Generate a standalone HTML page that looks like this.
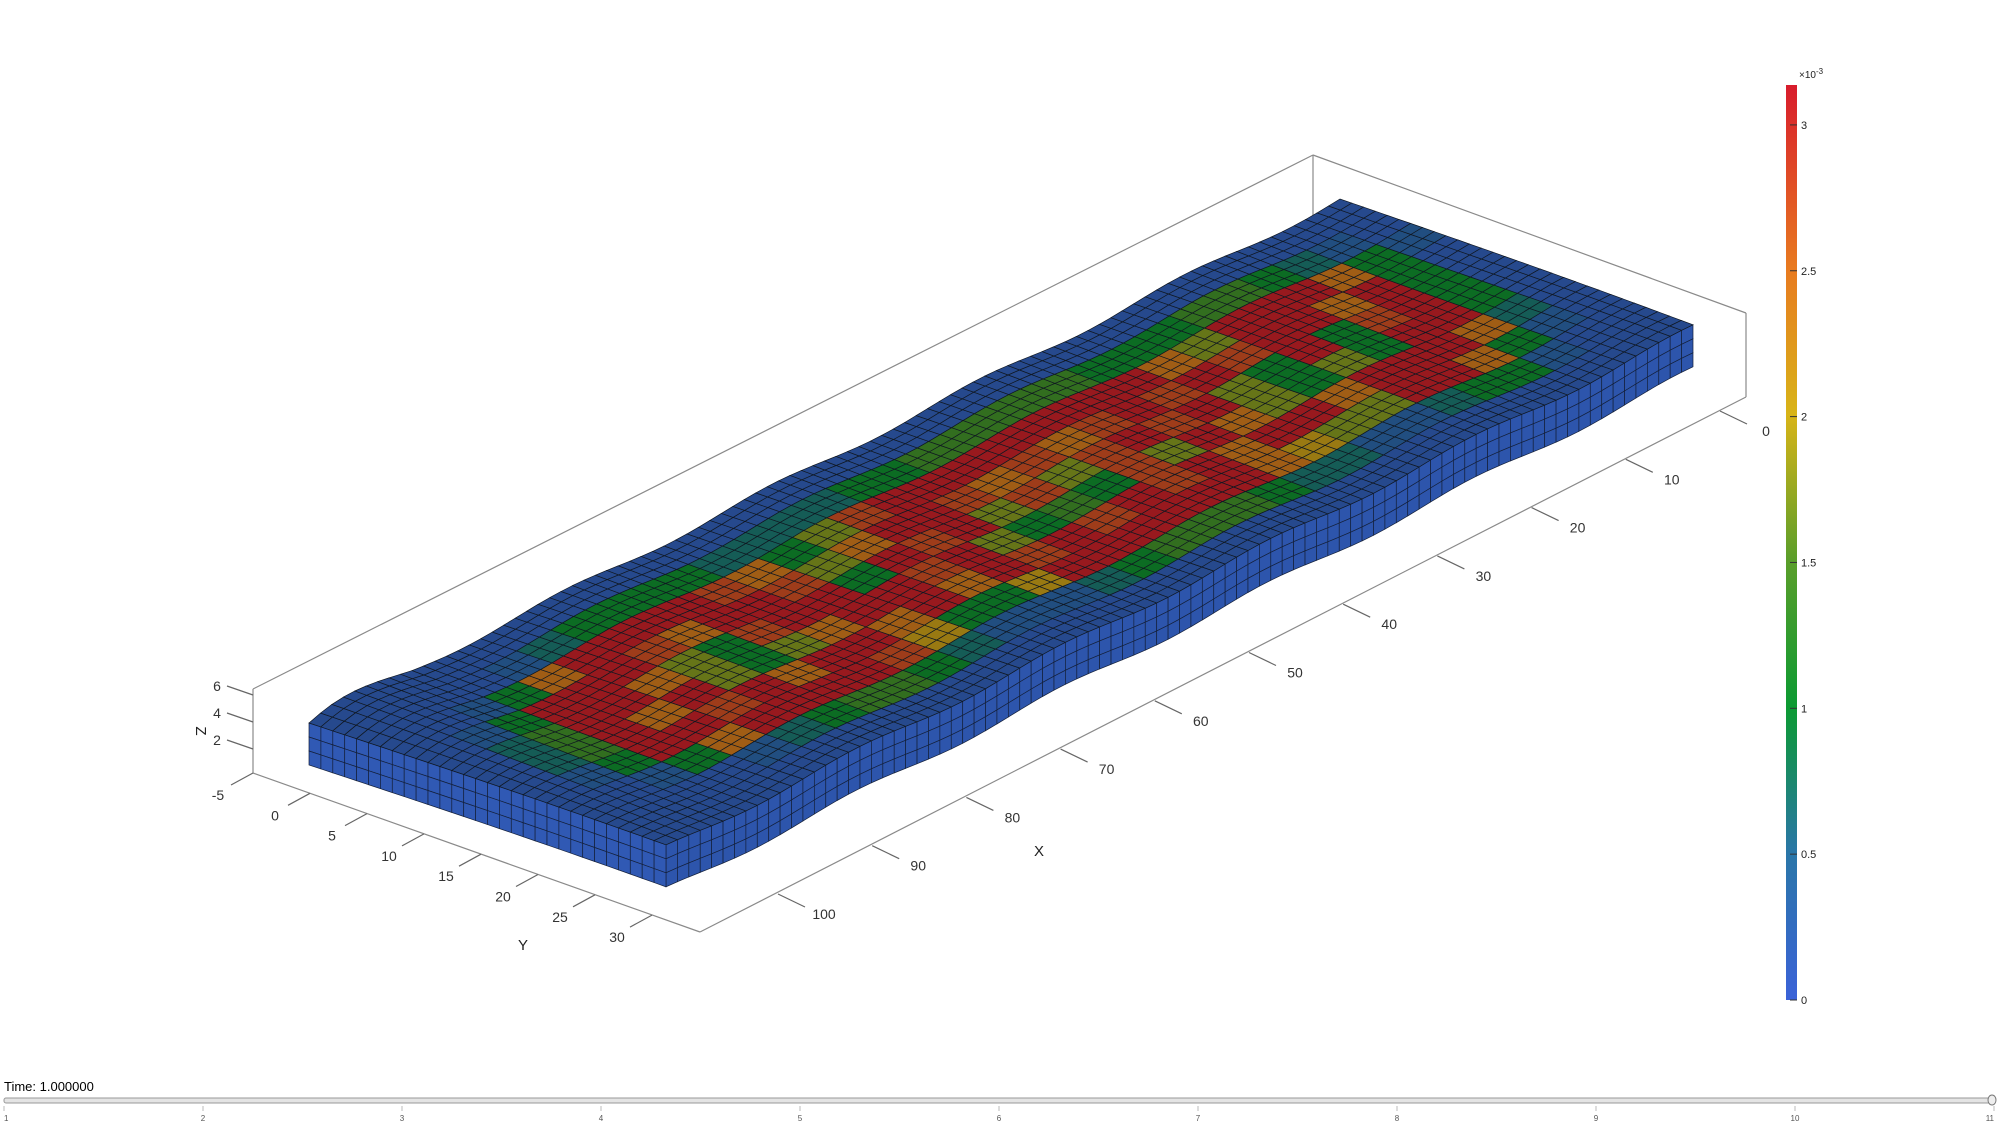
<!DOCTYPE html>
<html><head><meta charset="utf-8">
<style>
html,body{margin:0;padding:0;background:#fff;}
svg{display:block;font-family:"Liberation Sans",sans-serif;}
</style></head>
<body>
<svg id="chart" width="2000" height="1125" viewBox="0 0 2000 1125">
<defs>
<linearGradient id="cbgrad" x1="0" y1="1" x2="0" y2="0">
<stop offset="0" stop-color="#3b62d8"/>
<stop offset="0.16" stop-color="#2a76a8"/>
<stop offset="0.32" stop-color="#0c9a32"/>
<stop offset="0.48" stop-color="#5a9e2a"/>
<stop offset="0.64" stop-color="#d8b418"/>
<stop offset="0.8" stop-color="#e87a20"/>
<stop offset="1" stop-color="#d81c2c"/>
</linearGradient>
</defs>
<g id="box"></g>
<g id="mesh"></g>
<g id="axes"></g>
<g id="cbar"></g>
<g id="slider"></g>
</svg>
<script>
// field values (digit 0..9 => 0..3.1e-3), rows: back side -> front side, cols: front end -> far end
const fieldRows = [
"000000000000000000000000000000",
"000012333322223344444333443210",
"001379999873589999999975999731",
"013999879985799878789898997930",
"024997538993989585898953938930",
"024979535799895343859753539930",
"013998979979798989897997999720",
"001379999863369999997655997310",
"000012344321112344432211233100",
"000000000000000000000000000000"
];
const xTicks = [0,10,20,30,40,50,60,70,80,90,100];
const yTicks = [-5,0,5,10,15,20,25,30];
const zTicks = [2,4,6];
const cbTicks = [0,0.5,1,1.5,2,2.5,3];
const sliderTicks = [1,2,3,4,5,6,7,8,9,10,11];

const NS='http://www.w3.org/2000/svg';
function mk(tag,attrs,parent){const e=document.createElementNS(NS,tag);for(const k in attrs)e.setAttribute(k,attrs[k]);parent.appendChild(e);return e;}

function xAxisPt(X){return [1720+(X)*(-9.42),411+(X)*(4.83)];}
function yAxisPt(Y){return [253+(Y+5)*11.4,773+(Y+5)*4.06];}
function zAxisPt(Z){return [253,776-13.5*Z];}
function cbY(v){return 1000-v*291.7;}

const cstops=[[0,[59,98,216]],[0.5,[42,118,168]],[1.0,[12,154,50]],[1.5,[90,158,42]],[2.0,[216,180,24]],[2.5,[232,122,32]],[3.15,[216,28,44]]];
function cmap(v,f){let i=0;while(i<cstops.length-2&&v>cstops[i+1][0])i++;const a=cstops[i],b=cstops[i+1];let t=(v-a[0])/(b[0]-a[0]);t=Math.max(0,Math.min(1,t));
 const c=a[1].map((x,k)=>Math.round((x+(b[1][k]-x)*t)*f));return 'rgb('+c.join(',')+')';}

const A=[309,723],B=[666,848],C=[1340,199],D=[1693,328];
function P(u,v){
 const x=A[0]*(1-u)*(1-v)+B[0]*(1-u)*v+C[0]*u*(1-v)+D[0]*u*v;
 let y=A[1]*(1-u)*(1-v)+B[1]*(1-u)*v+C[1]*u*(1-v)+D[1]*u*v;
 y+=-3.5*Math.sin(2*Math.PI*u*5+v*2)-10*Math.exp(-u*14)*(1-v)*Math.sin(Math.PI*Math.min(1,u*10));
 return [x,y];
}
const mesh=document.getElementById('mesh');
const NC=fieldRows[0].length, NR=fieldRows.length, SUB=3;
const NU=NC*SUB, NV=NR*SUB, TH=42;
for(let i=0;i<NU;i++){for(let k=0;k<3;k++){
 const p0=P(i/NU,1),p1=P((i+1)/NU,1);
 const d0=TH*k/3,d1=TH*(k+1)/3;
 const e=mk('polygon',{points:`${p0[0]},${p0[1]+d0} ${p1[0]},${p1[1]+d0} ${p1[0]},${p1[1]+d1} ${p0[0]},${p0[1]+d1}`,fill:'#2d55ac',stroke:'#14203a','stroke-width':0.7},mesh);
 
 
}}
for(let j=0;j<NV;j++){for(let k=0;k<3;k++){
 const p0=P(0,j/NV),p1=P(0,(j+1)/NV);
 const d0=TH*k/3,d1=TH*(k+1)/3;
 const e=mk('polygon',{points:`${p0[0]},${p0[1]+d0} ${p1[0]},${p1[1]+d0} ${p1[0]},${p1[1]+d1} ${p0[0]},${p0[1]+d1}`,fill:'#3059b4',stroke:'#14203a','stroke-width':0.7},mesh);
 
 
}}
for(let i=0;i<NU;i++){for(let j=0;j<NV;j++){
 const dig=+fieldRows[Math.floor(j/SUB)][Math.floor(i/SUB)];
 const val=dig/9*3.1;
 const p=[P(i/NU,j/NV),P((i+1)/NU,j/NV),P((i+1)/NU,(j+1)/NV),P(i/NU,(j+1)/NV)];
 const e=mk('polygon',{points:p.map(q=>q[0].toFixed(1)+','+q[1].toFixed(1)).join(' '),fill:cmap(Math.max(0.15,val),0.7),stroke:'#101822','stroke-width':0.7},mesh);
 
 
}}

const box=document.getElementById('box');
const boxLines=[[253,773,253,689],[253,689,1313,155],[1313,155,1746,313],[1746,313,1746,397],[1313,155,1313,240],[700,932,1746,397],[253,773,700,932]];
boxLines.forEach(l=>{const e=mk('line',{x1:l[0],y1:l[1],x2:l[2],y2:l[3],stroke:'#8a8a8a','stroke-width':1.2},box);
 
 });

const axes=document.getElementById('axes');
xTicks.forEach(X=>{const p=xAxisPt(X);
 const t=mk('line',{x1:p[0],y1:p[1],x2:p[0]+27,y2:p[1]+13,stroke:'#666','stroke-width':1.2},axes);
 
 
 const s=mk('text',{x:p[0]+46,y:p[1]+25,'font-size':14,fill:'#333','text-anchor':'middle'},axes);s.textContent=X;
 
 });
yTicks.forEach(Y=>{const p=yAxisPt(Y);
 const t=mk('line',{x1:p[0],y1:p[1],x2:p[0]-22,y2:p[1]+12,stroke:'#666','stroke-width':1.2},axes);
 
 
 const s=mk('text',{x:p[0]-35,y:p[1]+27,'font-size':14,fill:'#333','text-anchor':'middle'},axes);s.textContent=Y;
 
 });
zTicks.forEach(Z=>{const p=zAxisPt(Z);
 const t=mk('line',{x1:p[0],y1:p[1],x2:p[0]-26,y2:p[1]-9,stroke:'#666','stroke-width':1.2},axes);
 
 
 const s=mk('text',{x:p[0]-36,y:p[1]-4,'font-size':14,fill:'#333','text-anchor':'middle'},axes);s.textContent=Z;
 
 });
</script>
<script>
(function(){
const axes=document.getElementById('axes');
function txt(x,y,s,size,name,extra){const e=document.createElementNS('http://www.w3.org/2000/svg','text');e.setAttribute('x',x);e.setAttribute('y',y);e.setAttribute('font-size',size);e.setAttribute('fill','#222');e.setAttribute('text-anchor','middle');if(extra)e.setAttribute('transform',extra);e.textContent=s;
 
 
 return e;}
axes.appendChild(txt(1039,856,'X',15,'x-axis-title'));
axes.appendChild(txt(523,950,'Y',15,'y-axis-title'));
axes.appendChild(txt(0,0,'Z',15,'z-axis-title','translate(196,731) rotate(90)'));

const cb=document.getElementById('cbar');
const r=document.createElementNS('http://www.w3.org/2000/svg','rect');
r.setAttribute('x',1786);r.setAttribute('y',85);r.setAttribute('width',11);r.setAttribute('height',915);r.setAttribute('fill','url(#cbgrad)');


cb.appendChild(r);
cbTicks.forEach(v=>{const y=cbY(v);
 const l=document.createElementNS('http://www.w3.org/2000/svg','line');
 l.setAttribute('x1',1790);l.setAttribute('x2',1797);l.setAttribute('y1',y);l.setAttribute('y2',y);l.setAttribute('stroke','#333');l.setAttribute('stroke-width',1);
 
 
 cb.appendChild(l);
 const t=txt(1801,y+4,String(v),11,'colorbar-tick-label');t.setAttribute('text-anchor','start');cb.appendChild(t);});
const ex=txt(1799,78,'×10',10,'colorbar-exponent');ex.setAttribute('text-anchor','start');
const sp=document.createElementNS('http://www.w3.org/2000/svg','tspan');sp.setAttribute('dy',-4);sp.setAttribute('font-size',8);sp.textContent='-3';ex.appendChild(sp);cb.appendChild(ex);

const sl=document.getElementById('slider');
const tl=txt(4,1091,'Time: 1.000000',13,'time-label');tl.setAttribute('text-anchor','start');tl.setAttribute('fill','#000');sl.appendChild(tl);
const tr=document.createElementNS('http://www.w3.org/2000/svg','rect');
tr.setAttribute('x',4);tr.setAttribute('y',1098);tr.setAttribute('width',1990);tr.setAttribute('height',5);tr.setAttribute('rx',2);tr.setAttribute('fill','#e4e4e4');tr.setAttribute('stroke','#999');tr.setAttribute('stroke-width',1);


sl.appendChild(tr);
const th=document.createElementNS('http://www.w3.org/2000/svg','ellipse');
th.setAttribute('cx',1992);th.setAttribute('cy',1100);th.setAttribute('rx',4);th.setAttribute('ry',5);th.setAttribute('fill','#eee');th.setAttribute('stroke','#777');


sl.appendChild(th);
sliderTicks.forEach(n=>{const x=4+(n-1)*199;
 const l=document.createElementNS('http://www.w3.org/2000/svg','line');
 l.setAttribute('x1',x);l.setAttribute('x2',x);l.setAttribute('y1',1106);l.setAttribute('y2',1111);l.setAttribute('stroke','#bbb');
 
 
 sl.appendChild(l);
 const t=txt(x,1121,String(n),8,'slider-tick-label');t.setAttribute('fill','#555');if(n===1)t.setAttribute('text-anchor','start');if(n===11)t.setAttribute('text-anchor','end');sl.appendChild(t);});
})();
</script>
</body></html>
